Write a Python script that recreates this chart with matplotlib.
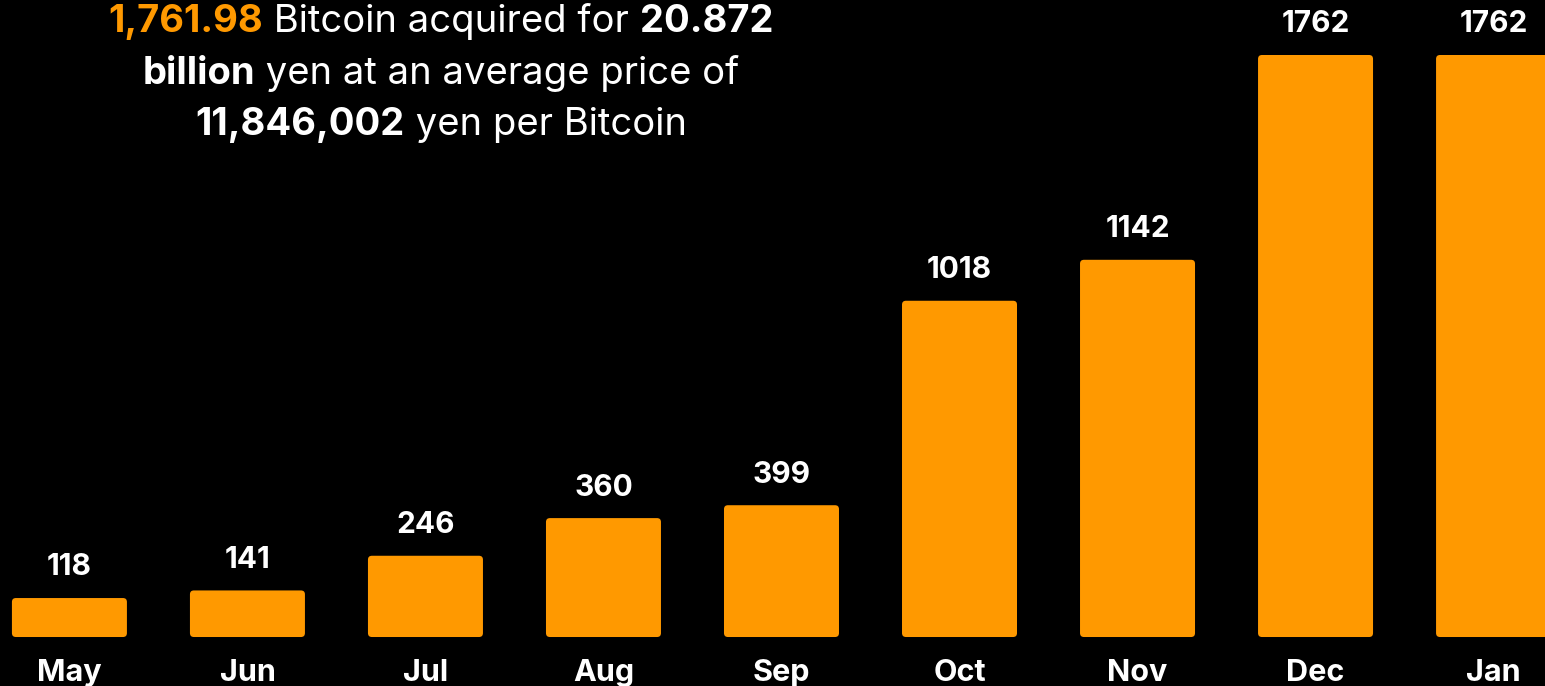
import matplotlib
matplotlib.use('Agg')
import matplotlib.pyplot as plt
from matplotlib.patches import FancyBboxPatch

months = ["May", "Jun", "Jul", "Aug", "Sep", "Oct", "Nov", "Dec", "Jan"]
holdings = [118, 141, 246, 360, 399, 1018, 1142, 1762, 1762]

# title pieces: (text, bold, colour)
title_lines = [
    [("1,761.98", True, "#FF9900"), (" Bitcoin acquired for ", False, "white"), ("20.872", True, "white")],
    [("billion", True, "white"), (" yen at an average price of", False, "white")],
    [("11,846,002", True, "white"), (" yen per Bitcoin", False, "white")],
]

ORANGE = "#FF9900"
FONT = ["Inter", "DejaVu Sans"]

fig = plt.figure(figsize=(15.45, 6.86), dpi=100, facecolor="black")
ax = fig.add_axes([0, 0, 1, 1])
ax.set_facecolor("black")

x = list(range(len(months)))
bars = ax.bar(x, holdings, width=0.646, color=ORANGE)
# round the corners a little
for b in bars:
    b.set_visible(False)
    p = FancyBboxPatch((b.get_x(), 0), b.get_width(), b.get_height(),
                       boxstyle="round,pad=0,rounding_size=0.022",
                       mutation_aspect=540, fc=ORANGE, ec="none")
    ax.add_patch(p)

for xi, v in zip(x, holdings):
    ax.annotate(str(v), (xi, v), xytext=(0, 22), textcoords="offset points",
                ha="center", va="center", color="white", fontsize=21.5,
                fontweight="bold", family=FONT)

ax.set_xlim(-0.390, 8.289)
ax.set_ylim(-148.3, 1928.5)
ax.axis("off")

for xi, m in zip(x, months):
    ax.text(xi, -108, m, ha="center", va="center", color="white",
            fontsize=22, fontweight="bold", family=FONT)

# title: mixed weight lines, centred at x ~ 441px
fig.canvas.draw()
renderer = fig.canvas.get_renderer()
cx = 441
line_y = [686 - 22, 686 - 74, 686 - 125]
for parts, ly in zip(title_lines, line_y):
    texts = []
    for s, bold, col in parts:
        t = fig.text(0, ly / 686, s, ha="left", va="center", color=col,
                     fontsize=27.5, fontweight="bold" if bold else "normal",
                     family=FONT)
        texts.append(t)
    widths = [t.get_window_extent(renderer).width for t in texts]
    start = cx - sum(widths) / 2
    for t, w in zip(texts, widths):
        t.set_x(start / 1545)
        start += w

fig.savefig("out.png", dpi=100, facecolor="black")
